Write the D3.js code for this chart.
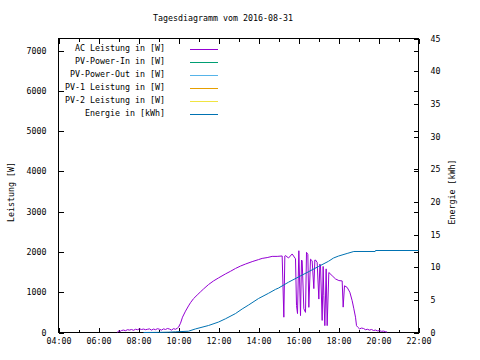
<!DOCTYPE html>
<html><head><meta charset="utf-8">
<script src="https://cdn.jsdelivr.net/npm/d3@7"></script>
<style>
html,body{margin:0;padding:0;background:#fff;}
svg{display:block;}
text{font-family:"DejaVu Sans Mono","Liberation Mono",monospace;font-size:8.3px;fill:#000;}
</style></head><body>
<svg id="c" width="480" height="360"></svg>
<script>
// ---------- data ----------
const title = "Tagesdiagramm vom 2016-08-31";
const seriesNames = ["AC Leistung in [W]","PV-Power-In in [W]","PV-Power-Out in [W]","PV-1 Leistung in [W]","PV-2 Leistung in [W]","Energie in [kWh]"];
const seriesColors = ["#9400d3","#009e73","#56b4e9","#e69f00","#f0e442","#0072b2"];
const xTickLabels = ["04:00","06:00","08:00","10:00","12:00","14:00","16:00","18:00","20:00","22:00"];
const xMinorLabels = ["05:00","07:00","09:00","11:00","13:00","15:00","17:00","19:00","21:00"];
const yLeftTicks = [0,1000,2000,3000,4000,5000,6000,7000];
const yRightTicks = [0,5,10,15,20,25,30,35,40,45];

const acTimes = ["06:57","07:00","07:06","07:09","07:15","07:21","07:27","07:33","07:39","07:45","07:51","07:57",
 "08:03","08:09","08:15","08:21","08:27","08:33","08:39","08:45","08:51","08:57","09:03","09:09","09:15","09:21",
 "09:27","09:33","09:39","09:45","09:51","09:57","10:00","10:06","10:12","10:21","10:30","10:36","10:45","10:56",
 "11:06","11:15","11:30","11:45","12:00","12:21","12:36","12:51","13:06","13:21","13:41","14:00","14:11","14:26",
 "14:41","14:56","15:11","15:16","15:19","15:21","15:30","15:41","15:51","15:54","15:57","16:01","16:06","16:09",
 "16:11","16:16","16:21","16:24","16:28","16:31","16:36","16:41","16:46","16:49","16:51","16:56","17:01","17:04",
 "17:06","17:11","17:14","17:16","17:19","17:23","17:26","17:31","17:41","17:51","18:01","18:11","18:14","18:18",
 "18:26","18:34","18:41","18:46","18:51","18:54","18:58","19:03","19:09","19:15","19:21","19:27","19:33","19:39",
 "19:45","19:51","19:57","20:03","20:09","20:15","20:21","20:26"];
const acValues = [0,40,30,50,60,45,70,60,75,55,80,70,
 90,75,85,70,80,90,60,85,70,95,80,60,90,75,
 100,85,60,95,80,110,130,230,380,530,660,740,840,930,
 1010,1080,1190,1280,1355,1455,1520,1590,1650,1700,1760,1810,1840,1860,
 1890,1890,1900,380,1900,1910,1850,1950,1830,670,470,2030,420,1800,
 1780,590,500,1990,1940,625,1820,1780,1090,1800,1800,1740,830,1700,
 1660,300,1640,920,170,1580,170,1490,1410,1330,1290,1280,630,1160,
 1120,1000,790,590,380,170,130,90,110,100,70,80,60,75,
 50,60,40,45,30,35,20,10];

const pvInTimes = [], pvInValues = [];
const pvOutTimes = [], pvOutValues = [];
const pv1Times = [], pv1Values = [];
const pv2Times = [], pv2Values = [];

const energyTimes = ["08:15","09:00","09:30","09:51","10:30","10:51","11:30","12:00","12:21","12:51","13:11","13:30",
 "14:00","14:30","14:51","15:00","15:30","16:00","16:30","17:00","17:30","17:45","18:00","18:26","18:46","19:50","19:51","22:00"];
const energyValues = [0,0.02,0.05,0.1,0.2,0.55,1.07,1.6,2.1,2.9,3.6,4.2,
 5.2,6.0,6.6,6.8,7.7,8.5,9.3,10.1,10.9,11.4,11.7,12.1,12.4,12.4,12.55,12.55];

// ---------- layout ----------
const L = 58, T = 38, W = 360, H = 294;
const parse = d3.timeParse("%H:%M");
const svg = d3.select("#c");

const x = d3.scaleTime().domain([parse("04:00"), parse("22:00")]).range([0, W]);
const yP = d3.scaleLinear().domain([0, 7300]).range([H, 0]);
const yE = d3.scaleLinear().domain([0, 45]).range([H, 0]);

svg.append("text").attr("x", 223).attr("y", 18).attr("text-anchor","middle")
  .attr("dominant-baseline","middle").text(title);

const g = svg.append("g").attr("transform", `translate(${L+0.5},${T+0.5})`);

function styleAxis(sel){
  sel.select(".domain").remove();
  sel.selectAll("line").attr("stroke","#000").attr("shape-rendering","crispEdges");
  sel.selectAll("text").attr("fill","#000");
  sel.attr("font-family",null).attr("font-size",null);
}

// x axis bottom major
g.append("g").attr("transform",`translate(0,${H})`)
  .call(d3.axisBottom(x).tickValues(xTickLabels.map(parse)).tickFormat(d3.timeFormat("%H:%M")).tickSize(-5).tickPadding(9))
  .call(styleAxis);
g.append("g").attr("transform",`translate(0,${H})`)
  .call(d3.axisBottom(x).tickValues(xMinorLabels.map(parse)).tickFormat("").tickSize(-3))
  .call(styleAxis);
// x axis top mirror
g.append("g")
  .call(d3.axisTop(x).tickValues(xTickLabels.map(parse)).tickFormat("").tickSize(-5))
  .call(styleAxis);
g.append("g")
  .call(d3.axisTop(x).tickValues(xMinorLabels.map(parse)).tickFormat("").tickSize(-3))
  .call(styleAxis);
// left axis
g.append("g")
  .call(d3.axisLeft(yP).tickValues(yLeftTicks).tickFormat(d3.format("d")).tickSize(-5).tickPadding(12))
  .call(styleAxis);
// left mirrored on right
g.append("g").attr("transform",`translate(${W},0)`)
  .call(d3.axisRight(yP).tickValues(yLeftTicks).tickFormat("").tickSize(-5))
  .call(styleAxis);
// right axis
g.append("g").attr("transform",`translate(${W},0)`)
  .call(d3.axisRight(yE).tickValues(yRightTicks).tickFormat(d3.format("d")).tickSize(-5).tickPadding(12))
  .call(styleAxis);

g.selectAll(".tick text").attr("dy",null).attr("dominant-baseline","middle");

// border
g.append("rect").attr("x",0).attr("y",0).attr("width",W).attr("height",H)
  .attr("fill","none").attr("stroke","#000").attr("shape-rendering","crispEdges");

// axis titles
svg.append("text").attr("transform","translate(11,192) rotate(-90)").attr("text-anchor","middle")
  .attr("dominant-baseline","middle").text("Leistung [W]");
svg.append("text").attr("transform","translate(452,192) rotate(-90)").attr("text-anchor","middle")
  .attr("dominant-baseline","middle").text("Energie [kWh]");

// series
const powerLine = d3.line().x(d => x(d.t)).y(d => yP(d.v));
const energyLine = d3.line().x(d => x(d.t)).y(d => yE(d.v));
function zip(ts, vs){ return ts.map((t,i)=>({t:parse(t), v:vs[i]})); }

const powerSeries = [
  zip(acTimes, acValues),
  zip(pvInTimes, pvInValues),
  zip(pvOutTimes, pvOutValues),
  zip(pv1Times, pv1Values),
  zip(pv2Times, pv2Values)
];
const plot = g.append("g");
powerSeries.forEach((s,i) => {
  if (s.length) plot.append("path").datum(s).attr("fill","none").attr("stroke",seriesColors[i])
    .attr("stroke-width",1).attr("d",powerLine);
});
plot.append("path").datum(zip(energyTimes, energyValues)).attr("fill","none").attr("stroke",seriesColors[5])
  .attr("stroke-width",1).attr("d",energyLine);

// legend
const lg = svg.append("g");
seriesNames.forEach((n,i) => {
  const yy = 48 + 13*i;
  lg.append("text").attr("x",165).attr("y",yy).attr("text-anchor","end").attr("dominant-baseline","middle").text(n);
  lg.append("line").attr("x1",190).attr("x2",218).attr("y1",yy+1.5).attr("y2",yy+1.5)
    .attr("stroke",seriesColors[i]).attr("stroke-width",1).attr("shape-rendering","crispEdges");
});
</script>
</body></html>
